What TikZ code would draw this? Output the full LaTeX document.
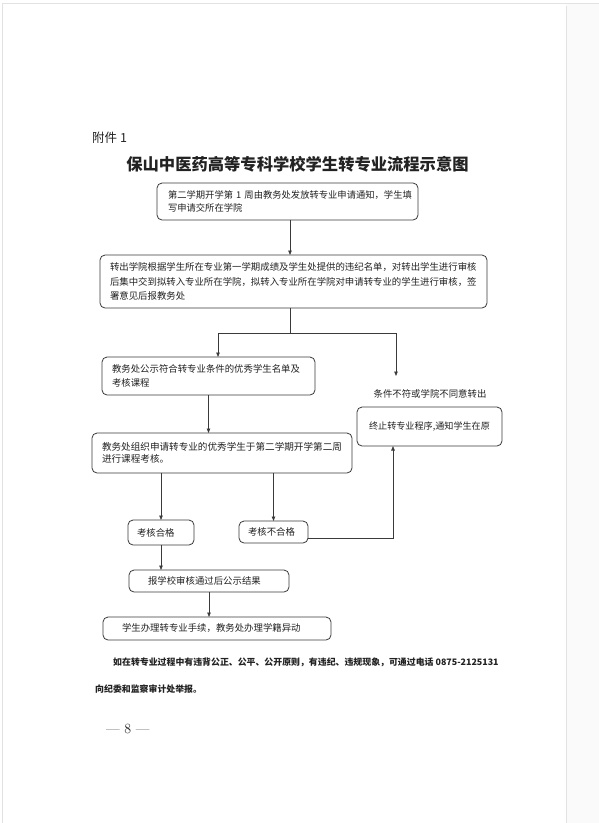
\documentclass[tikz,border=0pt]{standalone}
\usepackage{fontspec}
\newfontfamily\cjk{Noto Sans CJK SC}
\usetikzlibrary{arrows.meta}
\definecolor{linec}{HTML}{3A3A3A}
\definecolor{txtc}{HTML}{222222}
\definecolor{edgec}{HTML}{E2E2E2}
\begin{document}
\begin{tikzpicture}[x=1pt,y=-1pt,
  box/.style={draw=linec, line width=0.8pt, rounded corners=5pt, anchor=north west,
    align=left, font=\cjk\fontsize{9.4}{13.5}\selectfont, text=txtc, inner ysep=0pt, outer sep=0pt},
  arr/.style={draw=linec, line width=0.8pt, -{Triangle[length=4.5pt,width=3.5pt]}},
  ln/.style={draw=linec, line width=0.8pt},
  plain/.style={font=\cjk\fontsize{9.4}{13.5}\selectfont, text=txtc, inner sep=0pt}]
\useasboundingbox (0,0) rectangle (599,823);
\fill[white] (0,0) rectangle (599,823);
% page edges
\fill[gray!4] (566,3) rectangle (599,823);
\draw[edgec, line width=1pt] (566,6) -- (566,823);
\draw[edgec, line width=0.8pt] (2,3) -- (599,3);
\draw[edgec, line width=0.8pt] (2,3) -- (2,823);

% headings
\node[anchor=west, font=\cjk\fontsize{12.5}{14}\selectfont, text=txtc, inner sep=0pt] (att) at (92,138) {附件 1};
\node[font=\cjk\bfseries\fontsize{16.3}{18}\selectfont, text=txtc, inner sep=0pt] (title) at (297.5,164) {保山中医药高等专科学校学生转专业流程示意图};

% boxes
\node[box, minimum width=261pt, minimum height=37pt, text width=239pt, inner xsep=11pt,
  font=\cjk\fontsize{9.3}{13}\selectfont] (b1) at (157,183)
  {第二学期开学第~1~周由教务处发放转专业申请通知，学生填\\写申请交所在学院};
\node[box, minimum width=387pt, minimum height=53pt, text width=367pt, inner xsep=10pt,
  font=\cjk\fontsize{9.4}{14.5}\selectfont] (b2) at (100,255)
  {转出学院根据学生所在专业第一学期成绩及学生处提供的违纪名单，对转出学生进行审核\\后集中交到拟转入专业所在学院，拟转入专业所在学院对申请转专业的学生进行审核，签\\署意见后报教务处};
\node[box, minimum width=213pt, minimum height=38pt, text width=193pt, inner xsep=10pt] (b3) at (102,357)
  {教务处公示符合转专业条件的优秀学生名单及\\考核课程};
\node[plain] (lbl) at (430,394) {条件不符或学院不同意转出};
\node[box, minimum width=145pt, minimum height=39pt, text width=137pt, inner xsep=4pt, align=center,
  font=\cjk\fontsize{9.1}{13}\selectfont] (b4) at (357,407)
  {终止转专业程序,通知学生在原};
\node[box, minimum width=260pt, minimum height=40pt, text width=240pt, inner xsep=10pt,
  font=\cjk\fontsize{9.6}{12.5}\selectfont] (b5) at (92,433)
  {教务处组织申请转专业的优秀学生于第二学期开学第二周\\进行课程考核。};
\node[box, minimum width=66pt, minimum height=25pt, text width=48pt, inner xsep=9pt] (b6) at (128,520)
  {考核合格};
\node[box, minimum width=69pt, minimum height=22pt, text width=51pt, inner xsep=9pt] (b7) at (239,521)
  {考核不合格};
\node[box, minimum width=160pt, minimum height=22pt, text width=122pt, inner xsep=19pt] (b8) at (129,570)
  {报学校审核通过后公示结果};
\node[box, minimum width=228pt, minimum height=23pt, text width=190pt, inner xsep=19pt] (b9) at (103,617)
  {学生办理转专业手续，教务处办理学籍异动};

% connectors
\coordinate (j) at (290,333);
\coordinate (jl) at (218,333);
\coordinate (jr) at (396,333);
\coordinate (ra) at (396,376);
\coordinate (up) at (393,446);
\draw[arr] (b1.south -| j) -- (j |- b2.north);
\draw[ln] (b2.south -| j) -- (j);
\draw[ln] (jl) -- (jr);
\draw[arr] (jl) -- (jl |- b3.north);
\draw[arr] (jr) -- (ra);
\draw[arr] (b3.south) -- (b3.south |- b5.north);
\draw[arr] (b5.south -| b6.north) -- (b6.north);
\draw[arr] (b5.south -| b7.north) -- (b7.north);
\draw[arr] ([yshift=-6pt]b7.east) -| (up);
\draw[arr] (b6.south) -- (b6.south |- b8.north);
\draw[arr] (b8.south) -- (b8.south |- b9.north);

% footer text
\node[anchor=west, font=\cjk\bfseries\fontsize{8.9}{10}\selectfont, text=txtc, inner sep=0pt] (note1) at (113,662)
  {如在转专业过程中有违背公正、公平、公开原则，有违纪、违规现象，可通过电话 0875-2125131};
\node[anchor=west, font=\cjk\bfseries\fontsize{8.9}{10}\selectfont, text=txtc, inner sep=0pt] (note2) at (95,689)
  {向纪委和监察审计处举报。};
\node[anchor=west, font=\fontsize{14}{16}\selectfont, text=txtc, inner sep=0pt] (pg) at (106,729) {— 8 —};
\end{tikzpicture}
\end{document}
